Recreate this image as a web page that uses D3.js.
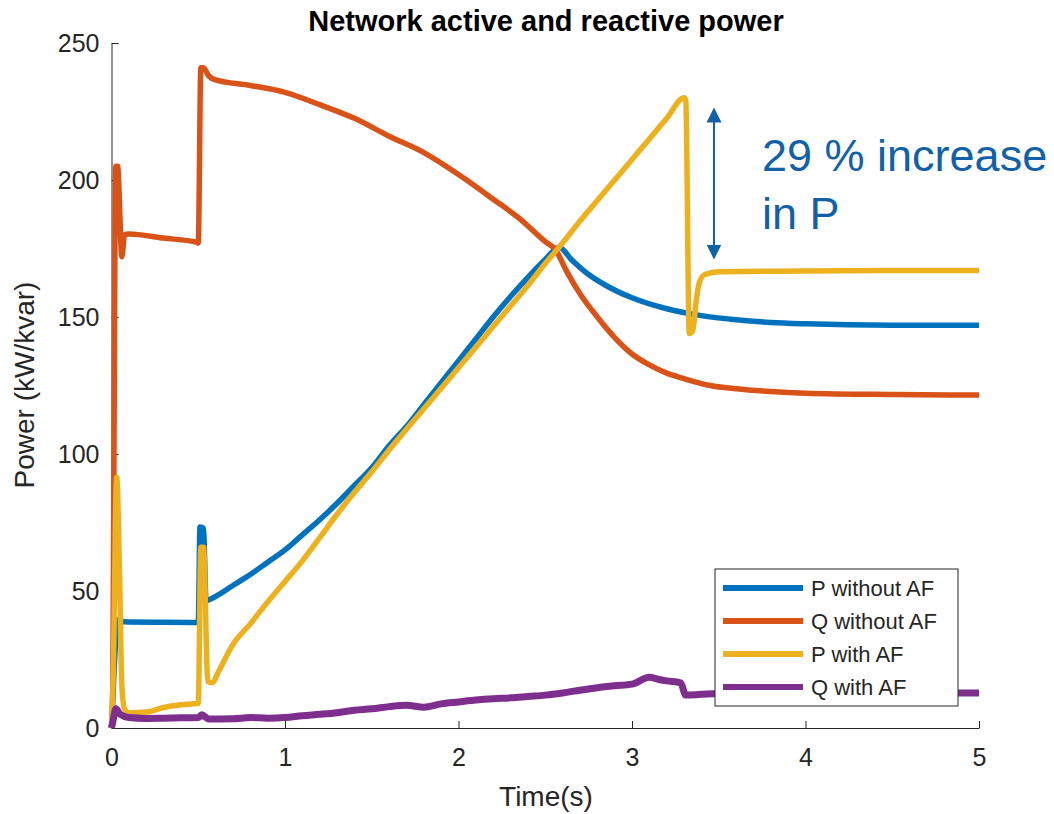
<!DOCTYPE html>
<html>
<head>
<meta charset="utf-8">
<script src="https://cdn.jsdelivr.net/npm/d3@7/dist/d3.min.js"></script>
<style>
  body { margin: 0; background: #fff; }
  svg { display: block; font-family: "Liberation Sans", Arial, Helvetica, sans-serif; }
</style>
</head>
<body>
<script>
// values, [time (s), power (kW / kvar)]
const pWithoutAF = [[0,0],[0.04,39.5],[0.07,38.8],[0.3,38.6],[0.5,38.5],[0.51,73.4],[0.53,73],[0.545,46.5],
  [0.6,48],[0.7,52],[0.8,56],[0.9,60.5],[1.0,65],[1.1,70.5],[1.2,76],[1.3,82],[1.4,88.5],[1.5,95],
  [1.6,103],[1.7,110],[1.8,118],[1.9,126],[2.0,134],[2.1,142],[2.2,150],[2.3,157.5],[2.4,164.5],[2.5,171],
  [2.58,175.5],[2.65,171],[2.75,165.5],[2.85,161.5],[3.0,157],[3.2,153],[3.4,150.5],[3.6,149],[3.8,148],
  [4.0,147.5],[4.5,147],[5,147]];

const qWithoutAF = [[0,0],[0.005,5],[0.025,205],[0.035,205],[0.06,172],[0.075,180],[0.1,180.3],[0.3,178.8],
  [0.49,177.3],[0.5,177],[0.515,241],[0.53,241],[0.56,238],[0.6,236.5],[0.8,234.5],[1.0,232],[1.2,227.5],
  [1.4,222.5],[1.6,216],[1.8,210],[2.0,202],[2.2,193],[2.35,186],[2.5,177.5],[2.56,174.5],[2.62,167],
  [2.7,158.5],[2.8,150],[2.9,142.5],[3.0,136.5],[3.1,132.5],[3.2,129.5],[3.3,127.5],[3.45,125],[3.6,123.8],
  [3.8,122.8],[4.0,122.2],[4.5,121.7],[5,121.5]];

const pWithAF = [[0,0],[0.01,20],[0.03,91.5],[0.045,60],[0.06,15],[0.075,7],[0.1,5.5],[0.2,5.8],[0.3,7.5],
  [0.4,8.5],[0.5,9],[0.515,66],[0.53,66],[0.555,17],[0.58,16.5],[0.62,21],[0.7,30.5],[0.8,38],[0.9,46],
  [1.0,53.5],[1.1,61],[1.2,69.5],[1.3,78],[1.4,86],[1.5,93.5],[1.6,101.5],[1.7,109],[1.8,116.5],[1.9,124],
  [2.0,131.5],[2.1,139],[2.2,146.5],[2.3,154],[2.4,161.5],[2.5,169.5],[2.6,177],[2.7,185],[2.8,192.5],
  [2.9,200],[3.0,207.5],[3.1,215],[3.2,222.5],[3.3,230],[3.31,229],[3.33,144],[3.35,145],[3.37,156],
  [3.39,163],[3.42,165.5],[3.5,166.5],[4.0,166.8],[4.5,167],[5,167]];

const qWithAF = [[0,0],[0.01,3],[0.025,7],[0.05,5],[0.1,3.8],[0.2,3.5],[0.3,3.6],[0.4,3.7],[0.5,3.8],
  [0.52,4.8],[0.56,3.3],[0.7,3.4],[0.8,3.8],[0.9,3.6],[1.0,3.8],[1.1,4.5],[1.2,5],[1.3,5.6],[1.4,6.5],
  [1.5,7],[1.6,7.8],[1.7,8.3],[1.8,7.6],[1.9,8.8],[2.0,9.5],[2.1,10.2],[2.2,10.7],[2.3,11],[2.4,11.5],
  [2.5,12],[2.6,12.8],[2.7,13.8],[2.8,14.7],[2.9,15.4],[3.0,16],[3.1,18.5],[3.15,17.8],[3.2,17.2],
  [3.28,16.5],[3.31,12],[3.4,12.3],[3.5,12.6],[4.0,12.8],[4.5,12.8],[5,12.8]];

const seriesNames = ["P without AF", "Q without AF", "P with AF", "Q with AF"];
const xTicks = [0, 1, 2, 3, 4, 5];
const yTicks = [0, 50, 100, 150, 200, 250];
const annotation = ["29 % increase", "in P"];

const width = 1054, height = 814;
const margin = { top: 43, right: 75, bottom: 86, left: 111.5 };
const colors = ["#0072BD", "#D95319", "#EDB120", "#7E2F8E"];
const ink = "#262626";

const series = [pWithoutAF, qWithoutAF, pWithAF, qWithAF].map((values, i) => ({
  name: seriesNames[i], values: values, color: colors[i]
}));

const x = d3.scaleLinear().domain([0, 5]).range([margin.left, width - margin.right]);
const y = d3.scaleLinear().domain([0, 250]).range([height - margin.bottom, margin.top]);

const svg = d3.select("body").append("svg")
  .attr("width", width)
  .attr("height", height);

const xAxis = g => g
  .attr("transform", `translate(0, ${y(0)})`)
  .call(d3.axisBottom(x).tickValues(xTicks).tickFormat(d3.format("d")).tickSizeInner(-7).tickSizeOuter(0).tickPadding(20))
  .call(g => g.selectAll("path, line").attr("stroke", ink))
  .call(g => g.selectAll("text").attr("fill", ink).attr("font-size", 25).attr("font-family", null));

const yAxis = g => g
  .attr("transform", `translate(${x(0)}, 0)`)
  .call(d3.axisLeft(y).tickValues(yTicks).tickSizeInner(-7).tickSizeOuter(0).tickPadding(12))
  .call(g => g.selectAll("path, line").attr("stroke", ink))
  .call(g => g.selectAll("text").attr("fill", ink).attr("font-size", 25).attr("font-family", null));

svg.append("g").call(xAxis);
svg.append("g").call(yAxis);

const line = d3.line()
  .curve(d3.curveMonotoneX)
  .x(d => x(d[0]))
  .y(d => y(d[1]));

svg.append("g")
  .selectAll("path")
  .data(series)
  .join("path")
  .attr("d", d => line(d.values))
  .attr("fill", "none")
  .attr("stroke", d => d.color)
  .attr("stroke-width", d => d.name == "Q with AF" ? 7 : 5.5)
  .attr("stroke-linejoin", "round");

// title and axis labels
svg.append("text")
  .attr("x", 546).attr("y", 31)
  .attr("text-anchor", "middle")
  .attr("font-weight", "bold")
  .attr("font-size", 29)
  .attr("fill", "#000")
  .text("Network active and reactive power");

svg.append("text")
  .attr("x", 546).attr("y", 806)
  .attr("text-anchor", "middle")
  .attr("font-size", 28)
  .attr("fill", ink)
  .text("Time(s)");

svg.append("text")
  .attr("transform", "translate(34, 385) rotate(-90)")
  .attr("text-anchor", "middle")
  .attr("font-size", 28)
  .attr("fill", ink)
  .text("Power (kW/kvar)");

// legend
const legend = svg.append("g").attr("transform", "translate(715, 569)");
legend.append("rect")
  .attr("width", 243).attr("height", 137)
  .attr("fill", "#fff")
  .attr("stroke", ink);
const item = legend.selectAll("g")
  .data(series)
  .join("g")
  .attr("transform", (d, i) => `translate(0, ${19 + i * 33})`);
item.append("line")
  .attr("x1", 8).attr("x2", 88)
  .attr("stroke", d => d.color)
  .attr("stroke-width", 6);
item.append("text")
  .attr("x", 96).attr("dy", "0.35em")
  .attr("font-size", 22)
  .attr("fill", ink)
  .text(d => d.name);

// annotation arrow
const blue = "#1160A8";
svg.append("defs").append("marker")
  .attr("id", "head")
  .attr("viewBox", "0 0 10 10")
  .attr("refX", 9).attr("refY", 5)
  .attr("markerWidth", 15).attr("markerHeight", 15)
  .attr("markerUnits", "userSpaceOnUse")
  .attr("orient", "auto-start-reverse")
  .append("path")
  .attr("d", "M0,0 L10,5 L0,10 Z")
  .attr("fill", blue);

svg.append("line")
  .attr("x1", 714).attr("y1", 109)
  .attr("x2", 714).attr("y2", 258)
  .attr("stroke", blue)
  .attr("stroke-width", 2)
  .attr("marker-start", "url(#head)")
  .attr("marker-end", "url(#head)");

svg.append("g")
  .selectAll("text")
  .data(annotation)
  .join("text")
  .attr("x", 762)
  .attr("y", (d, i) => 171 + i * 58)
  .attr("font-size", 45)
  .attr("fill", blue)
  .text(d => d);
</script>
</body>
</html>
